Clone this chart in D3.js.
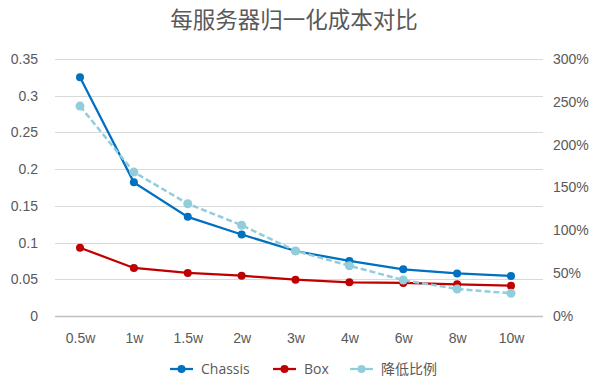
<!DOCTYPE html>
<html><head><meta charset="utf-8">
<script src="https://cdn.jsdelivr.net/npm/d3@7"></script>
<style>body{margin:0;background:#fff}svg{display:block;font-family:"Open Sans","Noto Sans CJK SC",sans-serif}</style>
</head><body><svg id="c" width="600" height="387"></svg>
<script>
const categories = ["0.5w","1w","1.5w","2w","3w","4w","6w","8w","10w"];
const chassis = [0.325,0.182,0.135,0.111,0.0885,0.075,0.0636,0.058,0.0545];
const box = [0.093,0.0654,0.0586,0.0549,0.0494,0.0459,0.045,0.0432,0.0413];
const ratio = [2.45,1.68,1.31,1.06,0.76,0.587,0.42,0.315,0.265];
const leftTicks = [0,0.05,0.1,0.15,0.2,0.25,0.3,0.35];
const rightTicks = [0,0.5,1,1.5,2,2.5,3];

const svg = d3.select("#c");
const x = d3.scalePoint().domain(categories).range([80,511]);
const yL = d3.scaleLinear().domain([0,0.35]).range([316,59]);
const yR = d3.scaleLinear().domain([0,3]).range([316,59]);
const txt = "#595959";

svg.append("text").attr("x",294).attr("y",28).attr("text-anchor","middle")
  .attr("font-size",22.5).attr("fill",txt).attr("font-family","Noto Sans CJK SC").text("每服务器归一化成本对比");

// grid
svg.append("g").selectAll("line").data(leftTicks).join("line")
  .attr("x1",55).attr("x2",543).attr("y1",d=>Math.round(yL(d))+0.5).attr("y2",d=>Math.round(yL(d))+0.5)
  .attr("stroke",d=>d===0?"#bfbfbf":"#d9d9d9").attr("stroke-width",d=>d===0?1.5:1);

// left axis
const la = svg.append("g").attr("transform","translate(38,0)")
  .call(d3.axisLeft(yL).tickValues(leftTicks).tickSize(0).tickPadding(0).tickFormat(d=>d3.format("")(d)));
la.select(".domain").remove();
la.selectAll("text").attr("font-size",14).attr("fill",txt);

const ra = svg.append("g").attr("transform","translate(553,0)")
  .call(d3.axisRight(yR).tickValues(rightTicks).tickSize(0).tickPadding(0).tickFormat(d3.format(".0%")));
ra.select(".domain").remove();
ra.selectAll("text").attr("font-size",14).attr("fill",txt);

const xa = svg.append("g").attr("transform","translate(0,330)")
  .call(d3.axisBottom(x).tickSize(0).tickPadding(0));
xa.select(".domain").remove();
xa.selectAll("text").attr("font-size",14).attr("fill",txt).attr("dy","0.9em");

function series(vals, y, color, dashed){
  const g = svg.append("g");
  g.append("path").datum(vals).attr("fill","none").attr("stroke",color).attr("stroke-width",dashed?2.5:2.25)
    .attr("stroke-dasharray",dashed?"6,3":null)
    .attr("d",d3.line().x((d,i)=>x(categories[i])).y(d=>y(d)));
  g.selectAll("circle").data(vals).join("circle").attr("cx",(d,i)=>x(categories[i])).attr("cy",d=>y(d))
    .attr("r",dashed?4.5:4).attr("fill",color);
}
series(box,yL,"#C00000",false);
series(chassis,yL,"#0070C0",false);
series(ratio,yR,"#92CDDC",true);

const legend = [["Chassis","#0070C0",170],["Box","#C00000",273],["降低比例","#92CDDC",350]];
legend.forEach(([n,c,lx])=>{
  const g = svg.append("g");
  g.append("line").attr("x1",lx).attr("x2",lx+23).attr("y1",369).attr("y2",369).attr("stroke",c).attr("stroke-width",2.25);
  g.append("circle").attr("cx",lx+11.5).attr("cy",369).attr("r",4).attr("fill",c);
  g.append("text").attr("x",lx+31).attr("y",369).attr("dy","0.35em").attr("font-size",14).attr("fill",txt)
    .attr("font-family",n==="降低比例"?"Noto Sans CJK SC":null).text(n);
});
</script></body></html>
